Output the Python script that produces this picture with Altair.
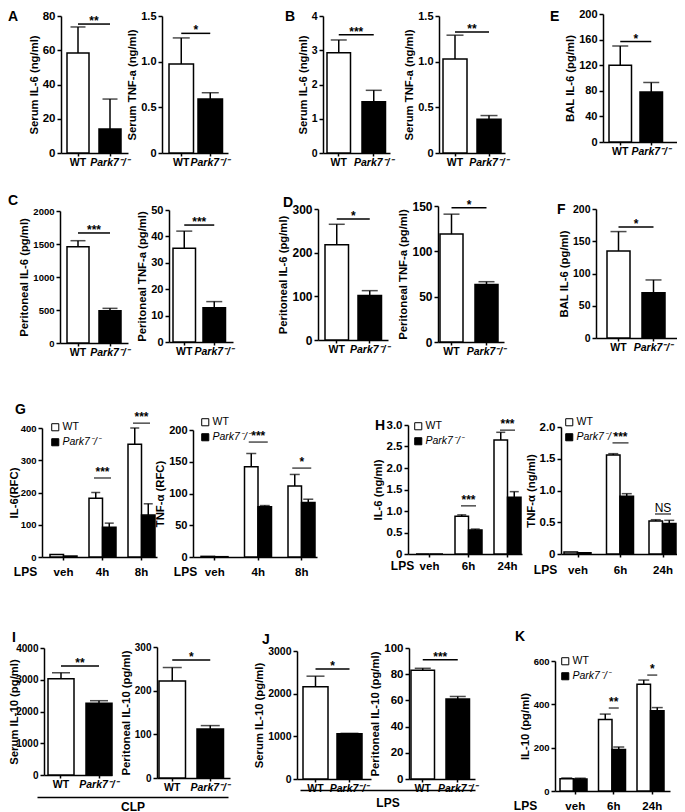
import altair as alt
import pandas as pd

FONT = "Liberation Sans"
WT = "WT"
KO = "Park7⁻/⁻"
genotypes = [WT, KO]

# ---------------- two-bar panels (WT vs Park7-/-) ----------------
pair_names = ["A1", "A2", "B1", "B2", "E", "C1", "C2", "D1", "D2", "F", "I1", "I2", "J1", "J2"]
pair_titles = ["Serum IL-6 (ng/ml)", "Serum TNF-a (ng/ml)", "Serum IL-6 (ng/ml)", "Serum TNF-a (ng/ml)",
               "BAL IL-6 (pg/ml)", "Peritoneal IL-6 (pg/ml)", "Peritoneal TNF-a (pg/ml)",
               "Peritoneal IL-6 (pg/ml)", "Peritoneal TNF-a (pg/ml)", "BAL IL-6 (pg/ml)",
               "Serum IL-10 (pg/ml)", "Peritoneal IL-10 (pg/ml)", "Serum IL-10 (pg/ml)", "Peritoneal IL-10 (pg/ml)"]
pair_wt_mean = [58.4, 0.975, 2.93, 1.03, 120, 1460, 35.5, 218, 119, 135, 3030, 222, 2160, 83]
pair_wt_upper = [73.6, 1.26, 3.30, 1.29, 150, 1550, 42.0, 265, 141, 165, 3220, 253, 2410, 84.5]
pair_ko_mean = [14.0, 0.59, 1.50, 0.37, 78, 490, 13.0, 102, 63.5, 70, 2260, 112, 1060, 61]
pair_ko_upper = [31.5, 0.66, 1.83, 0.41, 93, 525, 15.3, 113, 66.5, 90, 2340, 120, 1070, 63]
pair_sig_y = [75.3, 1.31, 3.45, 1.325, 157, 1667, 44.3, 277, 148, 172, 3433, 270, 2578, 91]
pair_stars = ["**", "*", "***", "**", "*", "***", "***", "*", "*", "*", "**", "*", "*", "***"]
pair_ymax = [80, 1.5, 4, 1.5, 200, 2000, 50, 300, 150, 200, 4000, 300, 3000, 100]
pair_ystep = [20, 0.5, 1, 0.5, 40, 500, 10, 100, 50, 50, 1000, 100, 1000, 20]

# ---------------- grouped panels (time course) ----------------
grp_names = ["G1", "G2", "H1", "H2", "K"]
grp_times = [["veh", "4h", "8h"], ["veh", "4h", "8h"], ["veh", "6h", "24h"],
             ["veh", "6h", "24h"], ["veh", "6h", "24h"]]
grp_wt_mean = [[8, 182, 350], [1, 142, 112], [0, 0.88, 2.65], [0.03, 1.56, 0.52], [57, 330, 493]]
grp_wt_upper = [[None, 200, 400], [None, 163, 130], [None, 0.91, 2.83], [None, 1.58, 0.54], [60, 355, 512]]
grp_ko_mean = [[3, 92, 130], [0.5, 79, 86], [0, 0.56, 1.32], [0.02, 0.91, 0.48], [55, 192, 370]]
grp_ko_upper = [[None, 105, 165], [None, 81, 91], [None, 0.58, 1.45], [None, 0.95, 0.53], [59, 203, 385]]
grp_sig_time = [["4h", "8h"], ["4h", "8h"], ["6h", "24h"], ["6h", "24h"], ["6h", "24h"]]
grp_sig_y = [[245, 415], [181, 140], [1.12, 2.88], [1.75, 0.63], [383, 535]]
grp_sig_lab = [["***", "***"], ["***", "*"], ["***", "***"], ["***", "NS"], ["**", "*"]]
grp_titles = ["IL-6(RFC)", "TNF-α (RFC)", "IL-6 (ng/ml)", "TNF-α (ng/ml)", "IL-10 (pg/ml)"]
grp_ymax = [400, 200, 3.0, 2.0, 600]
grp_ystep = [100, 50, 0.5, 0.5, 200]

# ---------------- layout (reference pixels) ----------------
# name: (y-axis x, plot top y, plot width, plot height)
frame = {
    "A1": (61, 16, 67, 137), "A2": (162, 16, 66, 137), "B1": (323, 16, 67, 137),
    "B2": (439, 16, 66, 137), "E": (603, 14, 74, 128),
    "C1": (60, 211, 68, 132), "C2": (169, 210, 64, 132), "D1": (318, 209, 70, 131),
    "D2": (438, 206, 66, 136), "F": (596, 209, 81, 129),
    "G1": (42, 428, 115, 129), "G2": (193, 430, 124, 127), "H1": (408, 425, 114, 129),
    "H2": (561, 427, 116, 127),
    "I1": (44, 648, 68, 127), "I2": (157, 647, 73, 131), "J1": (297, 651, 74, 128),
    "J2": (409, 648, 66, 131), "K": (555, 661, 115, 130),
}
# bar geometry: (offset of first bar/group from axis, step, bar/group width)
bands = {
    "A1": (6, 32, 22), "A2": (7, 29, 24.5), "B1": (4, 35, 23.5), "B2": (4, 34, 24), "E": (6, 31, 22.5),
    "C1": (7, 32, 22), "C2": (4, 30, 22.5), "D1": (7, 33, 23.5), "D2": (2, 35, 23), "F": (11, 35, 23),
    "I1": (4, 38, 26), "I2": (2, 38, 26.5), "J1": (6, 34, 25), "J2": (2, 35, 23.5),
    "G1": (8, 39, 27), "G2": (8, 43.5, 27.5), "H1": (8, 39, 27), "H2": (3, 42.5, 28), "K": (5, 38.5, 30.5),
}
label_size = {"A1": 11.5, "A2": 11, "B1": 10.5, "B2": 11, "E": 11, "C1": 9.5, "C2": 11, "D1": 12,
              "D2": 12, "F": 10.5, "G1": 9.5, "G2": 11, "H1": 11.5, "H2": 11.5, "I1": 10, "I2": 10,
              "J1": 10.5, "J2": 11.5, "K": 9.5}
ytitle_x = {"G1": -28, "I1": -30}
# panel letters: name -> (letter, x, baseline y)
letters = {
    "A1": ("A", 8, 21), "B1": ("B", 285, 21), "E": ("E", 550, 21),
    "C1": ("C", 8, 205), "D1": ("D", 283, 207), "F": ("F", 557, 214),
    "G1": ("G", 15, 414), "H1": ("H", 375, 430),
    "I1": ("I", 12, 642), "J1": ("J", 262, 644), "K": ("K", 515, 641),
}
TITLE_SHIFT = 14
# grouped x-axis: (label padding, LPS title x, LPS title y)
grp_xaxis = {"G1": (6, -17, 14), "G2": (6, -8, 14), "H1": (3, -6, 11), "H2": (7, -16, 15), "K": (6, -30, 14)}
grp_legend = {"G1": (8, -6), "G2": (7, -13), "H1": (5, -4), "H2": (3, -10), "K": (5, -5)}
grp_sigsize = {"G1": 17, "G2": 19, "H1": 15, "H2": 16, "K": 10}
# row bands: (top y, bottom y)
row_band = [(8, 180), (180, 395), (395, 615), (615, 812)]
# bracket under I and J: (label, cell x, line start, line end, line y, title pad)
brackets = [("CLP", 37, 37, 228, 797, 4), ("LPS", 295, 300, 475, 790, 7)]


def band_scale(domain, W, l1, step, bw):
    n = len(domain)
    pi = 1 - bw / step
    po = (W / step - n + pi) / 2
    slack = W - step * (n - pi)
    al = min(1, max(0, l1 / slack)) if slack > 0 else 0.5
    return alt.Scale(domain=domain, paddingInner=pi, paddingOuter=po, align=al)


def y_axis(name, title, ymax, ystep):
    vals = [k * ystep for k in range(int(round(ymax / ystep)) + 1)]
    if ystep < 1:
        expr = "datum.value == 0 ? '0' : format(datum.value, '.1f')"
    else:
        expr = "format(datum.value, 'd')"
    kw = {}
    if name in ytitle_x:
        kw = dict(titleX=ytitle_x[name], titleBaseline="middle")
    return alt.Axis(title=title, values=vals, tickCount=len(vals) + 2, labelExpr=expr, tickSize=4,
                    labelPadding=2, titlePadding=3, grid=False, labelFontSize=label_size[name],
                    labelOverlap=False, labelFlush=False, **kw)


def star_layers(sig, dx, dy, xfield):
    bold = alt.Chart(sig).transform_filter("datum.lab != 'NS'").mark_text(
        font=FONT, fontSize=12, fontWeight="bold", dx=dx, dy=dy, baseline="alphabetic",
        color="black").encode(x=xfield, y="mean:Q", text="lab:N")
    plain = alt.Chart(sig).transform_filter("datum.lab == 'NS'").mark_text(
        font=FONT, fontSize=12, fontWeight="normal", dx=dx, dy=dy, baseline="alphabetic",
        color="black").encode(x=xfield, y="mean:Q", text="lab:N")
    return [bold, plain]


def pair_chart(i, d):
    name = pair_names[i]
    ax, top, W, H = frame[name]
    l1, step, bw = bands[name]
    df = pd.DataFrame({"g": genotypes,
                       "mean": [pair_wt_mean[i], pair_ko_mean[i]],
                       "upper": [pair_wt_upper[i], pair_ko_upper[i]]})
    sig = pd.DataFrame({"g": [WT], "g2": [KO], "mean": [pair_sig_y[i]], "lab": [pair_stars[i]]})
    xs = band_scale(genotypes, W, l1, step, bw)
    x = alt.X("g:N", scale=xs, sort=genotypes,
              axis=alt.Axis(title=None, labelAngle=0, tickSize=3, labelPadding=1, labelFontSize=10.5,
                            labelOverlap=False,
                            labelFontStyle={"condition": {"test": "datum.value == 'WT'", "value": "normal"},
                                            "value": "italic"}))
    ys = alt.Scale(domain=[0, pair_ymax[i]], nice=False, range=[d + H, d])
    y = alt.Y("mean:Q", scale=ys, axis=y_axis(name, pair_titles[i], pair_ymax[i], pair_ystep[i]))
    bars = alt.Chart(df).mark_bar(stroke="black", strokeWidth=1.5).encode(
        x=x, y=y,
        fill=alt.Fill("g:N", scale=alt.Scale(domain=genotypes, range=["white", "black"]), legend=None))
    err = alt.Chart(df).mark_rule(color="black", strokeWidth=1.5).encode(
        x="g:N", y="mean:Q", y2="upper:Q")
    cap = alt.Chart(df).mark_tick(orient="horizontal", color="black", thickness=1.5,
                                  size=round(bw * 0.7)).encode(x="g:N", y="upper:Q")
    sl = alt.Chart(sig).mark_rule(color="black", strokeWidth=1.5).encode(
        x="g:N", x2="g2:N", y="mean:Q")
    st = star_layers(sig, step / 2, 1, "g:N")
    return alt.layer(bars, err, cap, sl, *st).properties(width=W, height=d + H)


def grp_chart(i, d):
    name = grp_names[i]
    ax, top, W, H = frame[name]
    l1, step, bw = bands[name]
    times = grp_times[i]
    rows = []
    for k, t in enumerate(times):
        rows.append({"t": t, "g": WT, "mean": grp_wt_mean[i][k], "upper": grp_wt_upper[i][k]})
        rows.append({"t": t, "g": KO, "mean": grp_ko_mean[i][k], "upper": grp_ko_upper[i][k]})
    df = pd.DataFrame(rows)
    dfe = df.dropna(subset=["upper"])
    sig = pd.DataFrame({"t": grp_sig_time[i], "mean": grp_sig_y[i], "lab": grp_sig_lab[i]})
    lp, tx, ty = grp_xaxis[name]
    xs = band_scale(times, W, l1, step, bw)
    x = alt.X("t:N", scale=xs, sort=times,
              axis=alt.Axis(title="LPS", labelAngle=0, tickSize=3, labelPadding=lp, labelFontSize=11.5,
                            titleX=tx, titleY=ty, titleAlign="center", titleBaseline="middle",
                            titleFontSize=12, labelOverlap=False))
    xo = alt.XOffset("g:N", sort=genotypes, scale=alt.Scale(domain=genotypes, paddingInner=0, paddingOuter=0))
    ys = alt.Scale(domain=[0, grp_ymax[i]], nice=False, range=[d + H, d])
    y = alt.Y("mean:Q", scale=ys, axis=y_axis(name, grp_titles[i], grp_ymax[i], grp_ystep[i]))
    lx, ly = grp_legend[name]
    leg = alt.Legend(orient="none", legendX=lx, legendY=ly + d, title=None, symbolType="square",
                     symbolSize=50, symbolStrokeColor="black", symbolStrokeWidth=1,
                     labelFont=FONT, labelFontSize=10.5, labelFontWeight="normal", labelColor="black",
                     labelFontStyle=alt.ExprRef(expr="datum.label == 'WT' ? 'normal' : 'italic'"),
                     padding=0, rowPadding=3, labelOffset=2, direction="vertical")
    bars = alt.Chart(df).mark_bar(stroke="black", strokeWidth=1.5).encode(
        x=x, xOffset=xo, y=y,
        fill=alt.Fill("g:N", scale=alt.Scale(domain=genotypes, range=["white", "black"]), legend=leg))
    err = alt.Chart(dfe).mark_rule(color="black", strokeWidth=1.5).encode(
        x="t:N", xOffset="g:N", y="mean:Q", y2="upper:Q")
    cap = alt.Chart(dfe).mark_tick(orient="horizontal", color="black", thickness=1.5,
                                   size=round(bw * 0.35)).encode(x="t:N", xOffset="g:N", y="upper:Q")
    sl = alt.Chart(sig).mark_tick(orient="horizontal", color="black", thickness=1.5,
                                  size=grp_sigsize[name]).encode(x="t:N", y="mean:Q")
    st = star_layers(sig, 0, -2, "t:N")
    return alt.layer(bars, err, cap, sl, *st).properties(width=W, height=d + H)


def spacer(w, h, letter=None):
    df = pd.DataFrame({"z": [0, 0], "v": [0, 1]})
    c = alt.Chart(df).mark_point(opacity=0, size=0).encode(
        x=alt.X("z:Q", axis=None, scale=alt.Scale(domain=[0, 1])),
        y=alt.Y("v:Q", axis=None, scale=alt.Scale(domain=[0, 1]))).properties(width=w, height=h)
    if letter is not None:
        t, dx, dy = letter
        c = c.properties(title=alt.TitleParams(
            text=t, anchor="start", frame="group", orient="top", offset=0, dx=dx, dy=dy + TITLE_SHIFT,
            baseline="alphabetic", fontSize=14, fontWeight="bold", font=FONT, color="black"))
    return c


def bracket(label, x0, x1, height, pad):
    df = pd.DataFrame({"v": [0, 1]})
    return alt.Chart(df).mark_point(opacity=0, size=0).encode(
        x=alt.X("v:Q", scale=alt.Scale(domain=[0, 1], nice=False, range=[x0, x1]),
                axis=alt.Axis(orient="bottom", ticks=False, labels=False, grid=False, title=label,
                              titlePadding=pad, titleFontSize=12)),
        y=alt.Y("v:Q", axis=None)).properties(width=1, height=height)


OX = 8  # page margin


def build_row(r, elements):
    ry0, ry1 = row_band[r]
    h = ry1 - ry0
    cells = []
    cur = OX
    for el in elements:
        kind = el[0]
        if kind == "panel":
            name = el[1]
            ax, top, W, H = frame[name]
            d = top - ry0
            if name in pair_names:
                ch = pair_chart(pair_names.index(name), d)
            else:
                ch = grp_chart(grp_names.index(name), d)
            start, width = ax, W
        else:
            label, cx, lx0, lx1, ly, pad = el[1]
            ch = bracket(label, lx0 - cx, lx1 - cx, ly - ry0, pad)
            name = label
            start, width = cx, 1
        gap = start - cur
        let = None
        if name in letters:
            t, lx, lb = letters[name]
            let = (t, lx - cur, lb - ry0)
        if gap > 0 or let is not None or not cells:
            cells.append(spacer(max(gap, 1), h, let))
        cells.append(ch)
        cur = start + width
    return alt.hconcat(*cells, spacing=0, bounds="flush").resolve_scale(
        fill="independent", x="independent", y="independent").resolve_legend(fill="independent")


rows = [
    build_row(0, [("panel", "A1"), ("panel", "A2"), ("panel", "B1"), ("panel", "B2"), ("panel", "E")]),
    build_row(1, [("panel", "C1"), ("panel", "C2"), ("panel", "D1"), ("panel", "D2"), ("panel", "F")]),
    build_row(2, [("panel", "G1"), ("panel", "G2"), ("panel", "H1"), ("panel", "H2")]),
    build_row(3, [("bracket", brackets[0]), ("panel", "I1"), ("panel", "I2"), ("bracket", brackets[1]),
                  ("panel", "J1"), ("panel", "J2"), ("panel", "K")]),
]

chart = alt.vconcat(*rows, spacing=0).resolve_scale(
    fill="independent", x="independent", y="independent").resolve_legend(fill="independent")

chart = chart.properties(padding=0).configure_view(stroke=None).configure_axis(
    labelFont=FONT, titleFont=FONT, labelFontSize=11, titleFontSize=11.3,
    labelFontWeight="bold", titleFontWeight="bold", labelColor="black", titleColor="black",
    domainColor="black", domainWidth=1.5, tickColor="black", tickWidth=1.5, grid=False
).configure_legend(labelFont=FONT).configure_title(font=FONT)

chart.save("out.html", embed_options={"renderer": "svg", "actions": False})
